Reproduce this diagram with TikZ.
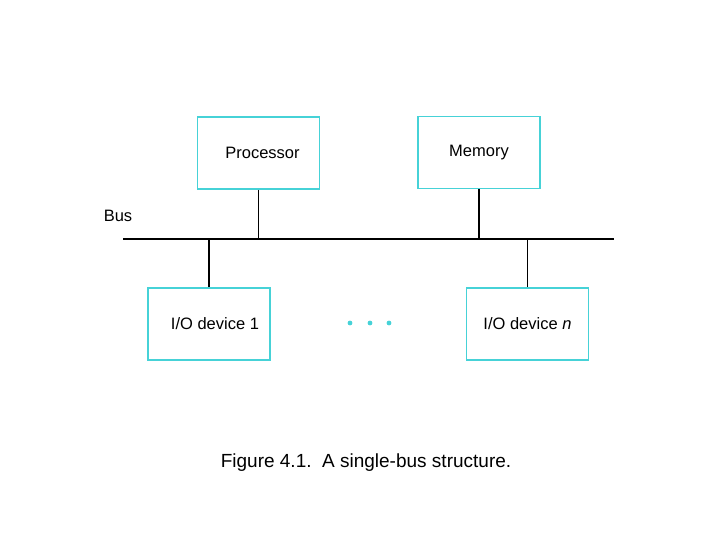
\documentclass[tikz,border=0pt]{standalone}
\usepackage{fontspec}
\setmainfont{Liberation Sans}
\definecolor{boxcyan}{RGB}{70,210,215}
\tikzset{unit/.style={draw=boxcyan,line width=1.8pt,minimum width=122pt,minimum height=72pt,font=\fontsize{16.5}{19}\selectfont},
  link/.style={line width=1.4pt}}
\begin{document}
\begin{tikzpicture}[x=1pt,y=-1pt]
\useasboundingbox (0,0) rectangle (720,539);

\node[unit] (proc) at (258.5,153) {\hspace*{8pt}Processor};
\node[unit] (mem) at (479,152.5) {Memory};
\node[unit] (io1) at (209,324) {\hspace*{12pt}I/O device 1};
\node[unit] (ion) at (527.5,324) {I/O device \textit{n}};

\coordinate (busl) at (123,239);
\coordinate (busr) at (614,239);
\node[font=\fontsize{16.5}{19}\selectfont] (bus) at (118,216) {Bus};

\draw[link] (busl) -- (busr);
\draw[link] (proc.south) -- (proc.south |- busl);
\draw[link] (mem.south) -- (mem.south |- busl);
\draw[link] (io1.north) -- (io1.north |- busl);
\draw[link] (ion.north) -- (ion.north |- busl);

\foreach \x in {350,370,389}
  \fill[boxcyan] (\x,323) circle (2.4pt);

\node[font=\fontsize{19}{22}\selectfont] (cap) at (366,463) {Figure 4.1.\ \ A single-bus structure.};
\end{tikzpicture}
\end{document}
